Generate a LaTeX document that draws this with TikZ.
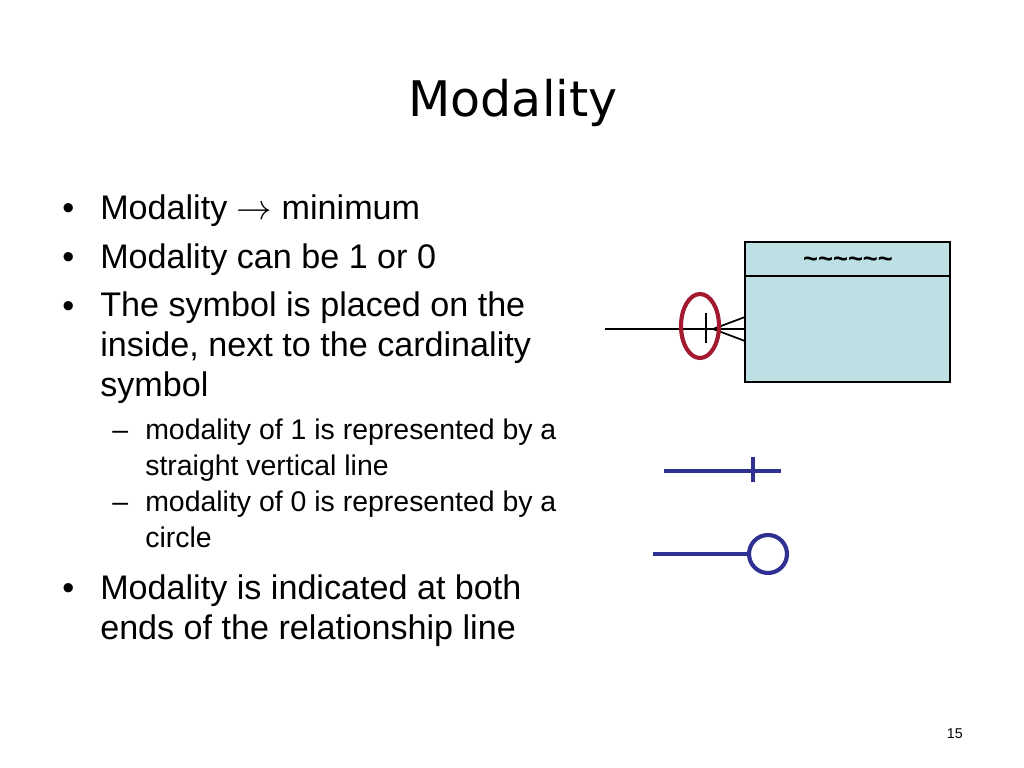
\documentclass[tikz,border=0pt]{standalone}
\usepackage{fontspec}
\setmainfont{Liberation Sans}
\newfontfamily\titlefont{DejaVu Sans}
\usepackage{tikz}
\usetikzlibrary{positioning, shapes.geometric}
\definecolor{boxfill}{HTML}{BCE0E4}
\definecolor{ovalred}{HTML}{A3192E}
\definecolor{symblue}{HTML}{2F3192}

\begin{document}
\begin{tikzpicture}[x=0.703125pt, y=-0.703125pt,
  bigtext/.style={anchor=base west, inner sep=0pt, align=left, font=\fontsize{24}{28.1}\selectfont},
  subtext/.style={anchor=base west, inner sep=0pt, align=left, font=\fontsize{20}{25.3}\selectfont},
  bulletdot/.style={anchor=base west, inner sep=0pt, font=\fontsize{24}{28}\selectfont},
  subdash/.style={anchor=base west, inner sep=0pt, font=\fontsize{20}{25}\selectfont},
  blueline/.style={draw=symblue, line width=3.5pt}]
\useasboundingbox (0,0) rectangle (1024,768);

% title
\node (title) [anchor=base, inner sep=0pt, font=\fontsize{34.5}{40}\titlefont] at (513,117) {Modality};

% bullets (multi-line texts sit on the baseline of their last line)
\node (d1) [bulletdot] at (62,220) {\textbullet};
\node (b1) [bigtext] at (100,220) {Modality $\rightarrow$ minimum};
\node (d2) [bulletdot] at (62,269) {\textbullet};
\node (b2) [bigtext] at (100,269) {Modality can be 1 or 0};
\node (d3) [bulletdot] at (62,318) {\textbullet};
\node (b3) [bigtext] at (100,396) {The symbol is placed on the\\inside, next to the cardinality\\symbol};
\node (e1) [subdash] at (112,439) {--};
\node (s1) [subtext] at (145,475) {modality of 1 is represented by a\\straight vertical line};
\node (e2) [subdash] at (112,511) {--};
\node (s2) [subtext] at (145,547) {modality of 0 is represented by a\\circle};
\node (d4) [bulletdot] at (62,599) {\textbullet};
\node (b4) [bigtext] at (100,639) {Modality is indicated at both\\ends of the relationship line};

% entity
\node (ent) [draw, line width=1.2pt, fill=boxfill, minimum width=144.1pt, minimum height=98.4pt, inner sep=0pt] at (847.5,312) {};
\coordinate (hdL) at (745,276);
\coordinate (hdR) at (950,276);
\draw[line width=1.2pt] (hdL) -- (hdR);
\node (tilde) [inner sep=0pt, font=\fontsize{18}{20}\selectfont\bfseries] at (848,262) {\textasciitilde\textasciitilde\textasciitilde\textasciitilde\textasciitilde\textasciitilde};

% relationship with crow's foot
\coordinate (relend) at (605,329);
\coordinate (entin) at (745,329);
\coordinate (crow) at (713,329);
\coordinate (footT) at (745,317);
\coordinate (footB) at (745,341);
\coordinate (barT) at (706,313);
\coordinate (barB) at (706,343);
\draw[line width=1.2pt] (relend) -- (entin);
\draw[line width=1.2pt] (footT) -- (crow) -- (footB);
\draw[line width=1.2pt] (barT) -- (barB);
\node (oval) [ellipse, draw=ovalred, line width=2.9pt, minimum width=26.7pt, minimum height=45pt, inner sep=0pt] at (700,326) {};

% modality symbols
\coordinate (oneL) at (664,471);
\coordinate (oneR) at (781,471);
\coordinate (tickT) at (753,457);
\coordinate (tickB) at (753,482);
\draw[blueline] (oneL) -- (oneR);
\draw[blueline] (tickT) -- (tickB);
\node (zero) [circle, draw=symblue, line width=2.9pt, minimum size=26.7pt, inner sep=0pt] at (768,554) {};
\coordinate (zeroL) at (653,554);
\draw[blueline] (zeroL) -- (zero.west);

% page number
\node (page) [anchor=base east, inner sep=0pt, font=\fontsize{10}{12}\selectfont] at (963,738) {15};
\end{tikzpicture}
\end{document}
